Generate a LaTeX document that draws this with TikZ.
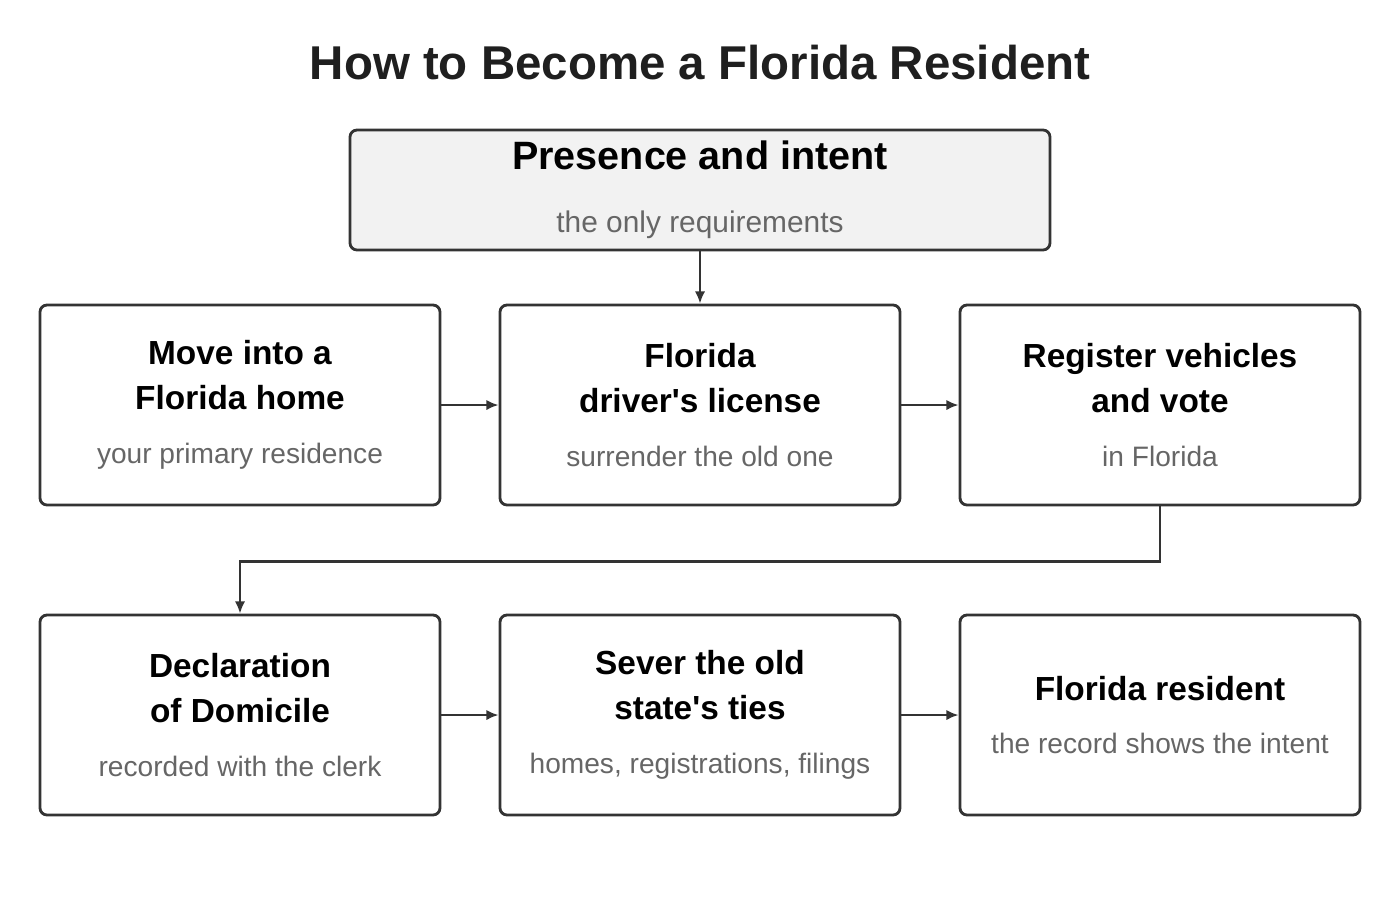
\documentclass[tikz,border=0pt]{standalone}
\usepackage{fontspec}
\setmainfont{Liberation Sans}
\usetikzlibrary{arrows.meta,positioning}
\definecolor{edgegray}{HTML}{333333}
\definecolor{subgray}{HTML}{666666}
\definecolor{topfill}{HTML}{F2F2F2}
\tikzstyle{stepbox}=[draw=edgegray,line width=1.6pt,rounded corners=4pt,minimum width=8cm,minimum height=4cm,align=center,inner sep=0pt,fill=white,font=\fontsize{19}{25.5}\selectfont]
\tikzstyle{link}=[draw=edgegray,line width=1.6pt,-{Latex[length=7pt,width=6pt]}]
\newcommand{\hd}[1]{{\bfseries #1}}
\newcommand{\sub}[1]{{\fontsize{16}{18}\selectfont\color{subgray}#1}}
\begin{document}
\begin{tikzpicture}[x=1cm,y=1cm]
    \useasboundingbox (0,0) rectangle (28,-18);

    \node[font=\bfseries\fontsize{27}{32}\selectfont, text=black!88] (title) at (14,-1.26) {How to Become a Florida Resident};

    \node[stepbox, fill=topfill, minimum width=14cm, minimum height=2.4cm, font=\fontsize{22.5}{36}\selectfont] (intent) at (14,-3.8)
        {\hd{Presence and intent}\\{\fontsize{17}{18}\selectfont\color{subgray}the only requirements}};

    \node[stepbox] (home) at (4.8,-8.1) {\hd{Move into a}\\\hd{Florida home}\\[5pt]\sub{your primary residence}};
    \node[stepbox] (license) at (14,-8.1) {\hd{Florida}\\\hd{driver\textquotesingle s license}\\[5pt]\sub{surrender the old one}};
    \node[stepbox] (vote) at (23.2,-8.1) {\hd{Register vehicles}\\\hd{and vote}\\[5pt]\sub{in Florida}};

    \node[stepbox] (domicile) at (4.8,-14.3) {\hd{Declaration}\\\hd{of Domicile}\\[5pt]\sub{recorded with the clerk}};
    \node[stepbox] (sever) at (14,-14.3) {\hd{Sever the old}\\\hd{state\textquotesingle s ties}\\[5pt]\sub{homes, registrations, filings}};
    \node[stepbox] (resident) at (23.2,-14.3) {\hd{Florida resident}\\[5pt]\sub{the record shows the intent}};

    \draw[link] (intent) -- (license);
    \draw[link] (home) -- (license);
    \draw[link] (license) -- (vote);
    \draw[link] (vote.south) -- ++(0,-1.1) -| (domicile.north);
    \draw[link] (domicile) -- (sever);
    \draw[link] (sever) -- (resident);
\end{tikzpicture}
\end{document}
